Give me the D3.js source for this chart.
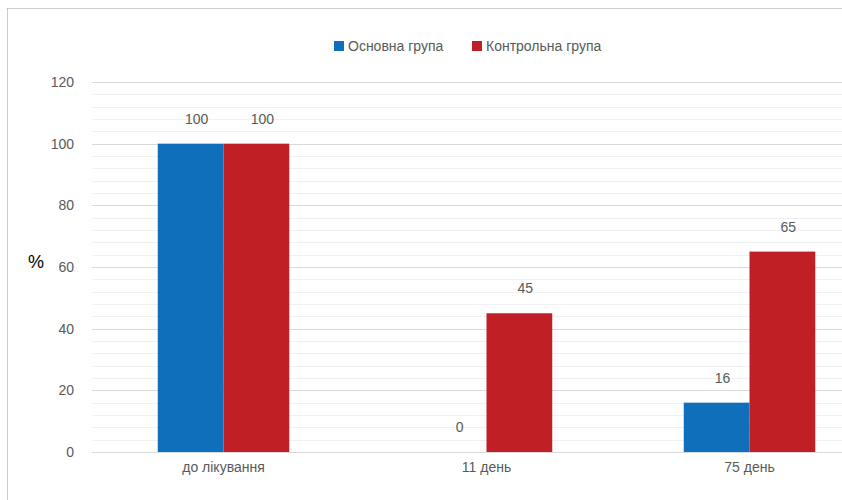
<!DOCTYPE html>
<html>
<head>
<meta charset="utf-8">
<script src="https://cdn.jsdelivr.net/npm/d3@7"></script>
<style>
  html, body { margin: 0; padding: 0; background: #fff; }
  svg { display: block; }
  text { font-family: "Liberation Sans Narrow", "Arial Narrow", "Liberation Sans", Arial, sans-serif; }
</style>
</head>
<body>
<svg id="chart" width="842" height="500"></svg>
<script>
// Stages of observation and the share of patients (%) in each group
const categories = ["до лікування", "11 день", "75 день"];
const seriesNames = ["Основна група", "Контрольна група"];
const mainGroup = [100, 0, 16];
const controlGroup = [100, 45, 65];
const yTicks = [0, 20, 40, 60, 80, 100, 120];
const yMinorStep = 4;
const colors = ["#0f6fba", "#c01f26"];

const svg = d3.select("#chart");
const W = 842, H = 500;

// dotted frame (top and left edges)
svg.append("line").attr("x1", 7.5).attr("x2", W).attr("y1", 8.5).attr("y2", 8.5)
  .attr("stroke", "#9a9a9a").attr("stroke-width", 1).attr("stroke-dasharray", "1,1");
svg.append("line").attr("x1", 7.5).attr("x2", 7.5).attr("y1", 8.5).attr("y2", H)
  .attr("stroke", "#9a9a9a").attr("stroke-width", 1).attr("stroke-dasharray", "1,1");

const plot = { left: 92, right: 881, top: 82, bottom: 452 };

const y = d3.scaleLinear().domain([0, 120]).range([plot.bottom, plot.top]);
const x0 = d3.scaleBand().domain(categories).range([plot.left, plot.right]).paddingInner(0).paddingOuter(0);
const x1 = d3.scaleBand().domain(seriesNames)
  .range([x0.bandwidth() * 0.25, x0.bandwidth() * 0.75]).padding(0);

// minor gridlines
const minorVals = d3.range(0, 120 + 0.001, yMinorStep).filter(v => !yTicks.includes(v));
svg.append("g").selectAll("line").data(minorVals).join("line")
  .attr("x1", plot.left).attr("x2", W)
  .attr("y1", d => Math.round(y(d)) + 0.5).attr("y2", d => Math.round(y(d)) + 0.5)
  .attr("stroke", "#f0f0f0").attr("stroke-width", 1);

// major gridlines and tick labels
const yAxis = d3.axisLeft(y).tickValues(yTicks).tickSize(0).tickPadding(18);
const gy = svg.append("g").attr("transform", `translate(${plot.left},0)`).call(yAxis);
gy.select(".domain").remove();
gy.selectAll(".tick text").attr("fill", "#595959").style("font-size", "14px");
gy.selectAll(".tick").append("line")
  .attr("x1", 0).attr("x2", W - plot.left)
  .attr("stroke", "#d9d9d9").attr("stroke-width", 1);
gy.selectAll(".tick").attr("transform", d => `translate(0,${Math.round(y(d)) + 0.5})`);

// axis title
svg.append("text").attr("x", 36).attr("y", 263).attr("text-anchor", "middle")
  .attr("dominant-baseline", "middle")
  .style("font-family", "'Liberation Sans', Arial, sans-serif")
  .style("font-size", "18px").attr("fill", "#000").text("%");

// bars
const rows = categories.map((c, i) => ({ cat: c, vals: [mainGroup[i], controlGroup[i]] }));
const groups = svg.append("g").selectAll("g").data(rows).join("g")
  .attr("transform", d => `translate(${x0(d.cat)},0)`);

groups.selectAll("rect").data(d => d.vals.map((v, j) => ({ v, j })))
  .join("rect")
  .attr("x", d => x1(seriesNames[d.j]))
  .attr("width", x1.bandwidth())
  .attr("y", d => y(d.v))
  .attr("height", d => y(0) - y(d.v))
  .attr("fill", d => colors[d.j]);

// value labels
groups.selectAll("text.val").data(d => d.vals.map((v, j) => ({ v, j })))
  .join("text").attr("class", "val")
  .attr("x", d => x1(seriesNames[d.j]) + x1.bandwidth() / 2 + 6)
  .attr("y", d => y(d.v) - 20)
  .attr("text-anchor", "middle")
  .attr("fill", "#595959").style("font-size", "14px")
  .text(d => d.v);

// category labels
const xAxis = d3.axisBottom(x0).tickSize(0).tickPadding(10);
const gx = svg.append("g").attr("transform", `translate(0,${plot.bottom})`).call(xAxis);
gx.select(".domain").remove();
gx.selectAll(".tick text").attr("fill", "#595959").style("font-size", "14px");

// legend
const legend = svg.append("g");
const legendX = [334, 472];
seriesNames.forEach((name, i) => {
  legend.append("rect").attr("x", legendX[i]).attr("y", 41).attr("width", 10).attr("height", 10)
    .attr("fill", colors[i]);
  legend.append("text").attr("x", legendX[i] + 14).attr("y", 51)
    .attr("fill", "#595959").style("font-size", "14px").text(name);
});
</script>
</body>
</html>
